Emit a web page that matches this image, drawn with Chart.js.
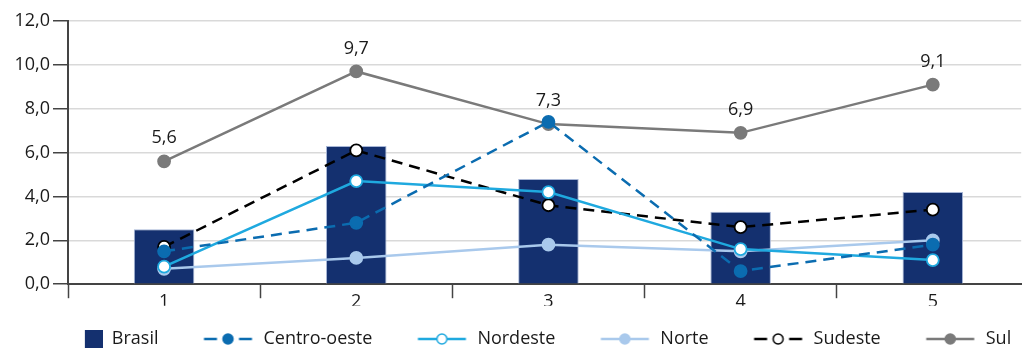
<!DOCTYPE html>
<html>
<head>
<meta charset="utf-8">
<script src="https://cdn.jsdelivr.net/npm/chart.js@4"></script>
<style>
  html, body { margin: 0; padding: 0; background: #fff; overflow: hidden; }
  #grafico { display: block; }
</style>
</head>
<body>
<canvas id="grafico" width="1029" height="348"></canvas>
<script>
// dados
const categorias = ['1', '2', '3', '4', '5'];
const brasil = [2.5, 6.3, 4.8, 3.3, 4.2];
const centroOeste = [1.5, 2.8, 7.4, 0.6, 1.8];
const nordeste = [0.8, 4.7, 4.2, 1.6, 1.1];
const norte = [0.7, 1.2, 1.8, 1.5, 2.0];
const sudeste = [1.7, 6.1, 3.6, 2.6, 3.4];
const sul = [5.6, 9.7, 7.3, 6.9, 9.1];

const FONTE = "'Open Sans', 'Noto Sans', sans-serif";
const TEXTO = '#1a1a1a';

function virgula(v) {
  return Number(v).toFixed(1).replace('.', ',');
}

// icones da legenda (linha + marcador), desenhados num canvas pequeno
function iconeLegenda(tipo, cor, preenchimento, tracejado) {
  const c = document.createElement('canvas');
  c.width = 93;
  c.height = 20;
  const g = c.getContext('2d');
  if (tipo === 'barra') {
    g.fillStyle = cor;
    g.fillRect(75, 1, 19, 18);
    return c;
  }
  g.strokeStyle = cor;
  g.lineWidth = 2.5;
  g.beginPath();
  if (tracejado) {
    g.moveTo(42.5, 10); g.lineTo(55.5, 10);
    g.moveTo(77.5, 10); g.lineTo(90.5, 10);
  } else {
    g.moveTo(42.5, 10); g.lineTo(90.5, 10);
  }
  g.stroke();
  g.beginPath();
  g.arc(66.5, 10, 5, 0, Math.PI * 2);
  g.fillStyle = preenchimento;
  g.fill();
  g.lineWidth = 1.5;
  g.stroke();
  return c;
}

const icones = [
  iconeLegenda('barra', '#14306f'),
  iconeLegenda('linha', '#0b6cb0', '#0b6cb0', true),
  iconeLegenda('linha', '#1fa9df', '#ffffff', false),
  iconeLegenda('linha', '#a9c9ec', '#a9c9ec', false),
  iconeLegenda('linha', '#000000', '#ffffff', true),
  iconeLegenda('linha', '#7a7a7a', '#7a7a7a', false)
];

// rotulos do Sul acima dos pontos
const rotulosSul = {
  id: 'rotulosSul',
  afterLayout(chart) {
    chart.legend.left -= 4;
    chart.legend.right -= 4;
  },
  afterDatasetsDraw(chart) {
    const idx = chart.data.datasets.findIndex(d => d.label === 'Sul');
    const meta = chart.getDatasetMeta(idx);
    const ctx = chart.ctx;
    ctx.save();
    ctx.font = '18px ' + FONTE;
    ctx.fillStyle = TEXTO;
    ctx.textAlign = 'center';
    ctx.textBaseline = 'middle';
    meta.data.forEach((p, i) => {
      ctx.fillText(virgula(chart.data.datasets[idx].data[i]), p.x, p.y - 23);
    });
    ctx.restore();
  }
};

function linha(label, data, cor, fundo, tracejado, ordem) {
  return {
    type: 'line',
    label: label,
    data: data,
    borderColor: cor,
    backgroundColor: fundo,
    borderWidth: 2.5,
    borderDash: tracejado ? [11, 7] : [],
    pointRadius: 6,
    pointBorderWidth: 1.8,
    pointBackgroundColor: fundo,
    pointBorderColor: cor,
    tension: 0,
    order: ordem
  };
}

const ctx = document.getElementById('grafico').getContext('2d');
const grafico = new Chart(ctx, {
  data: {
    labels: categorias,
    datasets: [
      {
        type: 'bar',
        label: 'Brasil',
        data: brasil,
        backgroundColor: '#14306f',
        borderColor: '#a7b6d6',
        borderWidth: 1,
        categoryPercentage: 1,
        barPercentage: 0.315,
        order: 10
      },
      linha('Centro-oeste', centroOeste, '#0b6cb0', '#0b6cb0', true, 1),
      linha('Nordeste', nordeste, '#1fa9df', '#ffffff', false, 2),
      linha('Norte', norte, '#a9c9ec', '#a9c9ec', false, 3),
      linha('Sudeste', sudeste, '#000000', '#ffffff', true, 4),
      linha('Sul', sul, '#7a7a7a', '#7a7a7a', false, 5)
    ]
  },
  options: {
    responsive: false,
    animation: false,
    layout: { padding: { top: 21, left: 0, right: 0, bottom: -10 } },
    plugins: {
      tooltip: { enabled: false },
      legend: {
        position: 'bottom',
        title: { display: true, text: ' ', font: { size: 1 }, padding: { top: 0, bottom: 20 } },
        labels: {
          usePointStyle: true,
          pointStyleWidth: 93,
          padding: 3,
          color: TEXTO,
          font: { family: FONTE, size: 18 },
          sort: (a, b) => a.datasetIndex - b.datasetIndex,
          generateLabels(chart) {
            const itens = Chart.defaults.plugins.legend.labels.generateLabels(chart);
            itens.forEach(it => { it.pointStyle = icones[it.datasetIndex]; });
            return itens;
          }
        }
      }
    },
    scales: {
      x: {
        // eixo numerico: no original a ultima categoria passa da borda direita
        type: 'linear',
        min: 0.5,
        max: 5.46,
        offset: false,
        grid: { offset: true, drawOnChartArea: false, tickLength: 14, tickColor: '#444', tickWidth: 1.5 },
        border: { color: '#444', width: 2 },
        ticks: {
          stepSize: 1,
          includeBounds: false,
          color: TEXTO,
          padding: -7,
          font: { family: FONTE, size: 18 },
          callback: v => categorias[v - 1]
        }
      },
      y: {
        min: 0,
        max: 12,
        afterFit(scale) { scale.width = 68; },
        grid: { color: '#d9d9d9', lineWidth: 1.5, tickLength: 15, tickColor: '#444', tickWidth: 1.5 },
        border: { color: '#444', width: 2 },
        ticks: {
          stepSize: 2,
          padding: 3,
          color: TEXTO,
          font: { family: FONTE, size: 18 },
          callback: v => virgula(v)
        }
      }
    }
  },
  plugins: [rotulosSul]
});
</script>
</body>
</html>
